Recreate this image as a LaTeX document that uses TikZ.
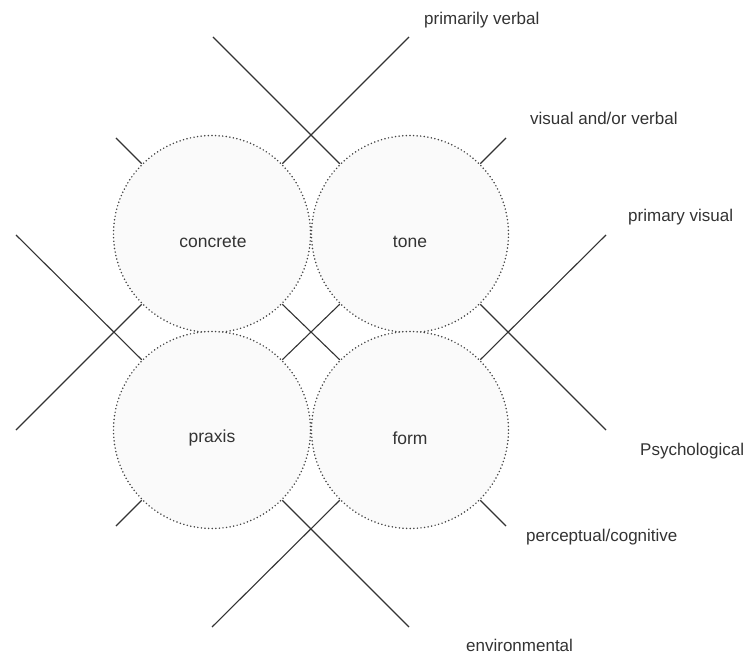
\documentclass[tikz,border=0pt]{standalone}
\usepackage{fontspec}
\setmainfont{Liberation Sans}
\definecolor{ink}{HTML}{333333}
\definecolor{dots}{HTML}{444444}
\definecolor{disc}{HTML}{FAFAFA}
\begin{document}
\begin{tikzpicture}[x=1pt,y=-1pt,
  zone/.style={circle, minimum size=197pt, inner sep=0pt, fill=disc,
    draw=dots, line width=1.7pt, line cap=round, dash pattern=on 0pt off 3.6pt},
  zonetext/.style={font=\fontsize{17.5}{20}\selectfont, text=ink, inner sep=0pt},
  axis/.style={draw=ink, line width=1.1pt},
  tag/.style={font=\fontsize{17}{20}\selectfont, text=ink, anchor=west, inner sep=0pt}]
\useasboundingbox (0,0) rectangle (747,655);

% four overlapping zones
\node[zone] (concrete) at (212,234) {};
\node[zone] (tone)     at (410,234) {};
\node[zone] (praxis)   at (212,430) {};
\node[zone] (form)     at (410,430) {};
\node[zonetext] at (213,242) {concrete};
\node[zonetext] at (410,242) {tone};
\node[zonetext] at (212,438) {praxis};
\node[zonetext] at (410,438) {form};

% free ends of the axes
\coordinate (tA) at (213,37);
\coordinate (tB) at (409,37);
\coordinate (lA) at (16,235);
\coordinate (lB) at (16,430);
\coordinate (rA) at (606,235);
\coordinate (rB) at (606,430);
\coordinate (bA) at (212,627);
\coordinate (bB) at (409,627);
\coordinate (s1) at (116,138);
\coordinate (s2) at (506,138);
\coordinate (s3) at (116,526);
\coordinate (s4) at (506,526);

% long axes
\draw[axis] (tA) -- (tone.north west);
\draw[axis] (tB) -- (concrete.north east);
\draw[axis] (lA) -- (praxis.north west);
\draw[axis] (lB) -- (concrete.south west);
\draw[axis] (rA) -- (form.north east);
\draw[axis] (rB) -- (tone.south east);
\draw[axis] (bA) -- (form.south west);
\draw[axis] (bB) -- (praxis.south east);
% central cross
\draw[axis] (concrete.south east) -- (form.north west);
\draw[axis] (tone.south west) -- (praxis.north east);
% short stubs
\draw[axis] (s1) -- (concrete.north west);
\draw[axis] (s2) -- (tone.north east);
\draw[axis] (s3) -- (praxis.south west);
\draw[axis] (s4) -- (form.south east);

% labels
\node[tag] (l1) at (424,20)  {primarily verbal};
\node[tag] (l2) at (530,118) {visual and/or verbal};
\node[tag] (l3) at (628,217) {primary visual};
\node[tag] (l4) at (640,451) {Psychological};
\node[tag] (l5) at (526,537) {perceptual/cognitive};
\node[tag] (l6) at (466,645) {environmental};
\end{tikzpicture}
\end{document}
